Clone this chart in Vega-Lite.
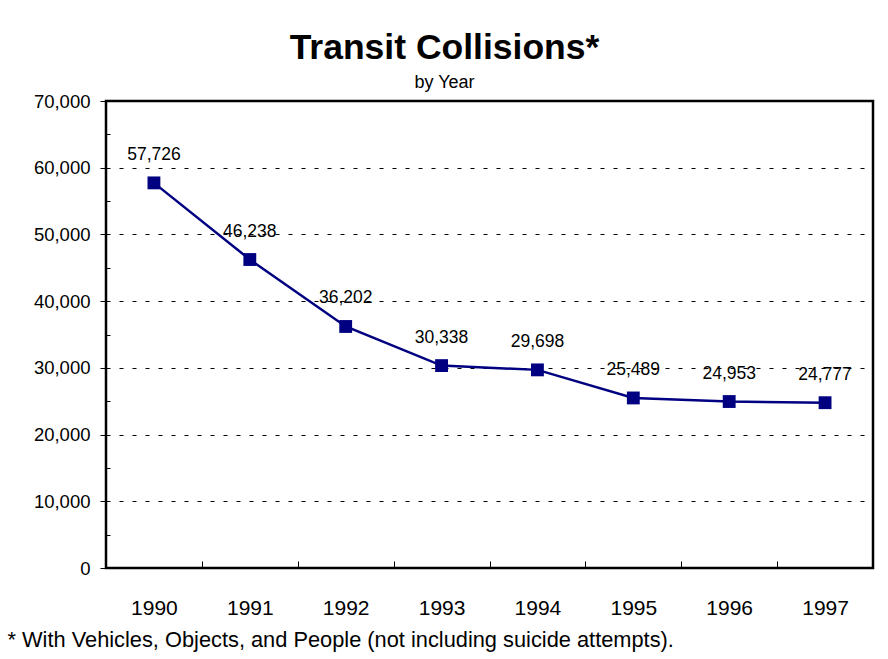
{
  "$schema": "https://vega.github.io/schema/vega-lite/v6.json",
  "width": 767,
  "height": 467,
  "autosize": {"type": "none"},
  "padding": {"left": 106, "top": 101, "right": 15, "bottom": 91},
  "background": "white",
  "config": {
    "font": "Liberation Sans",
    "view": {"stroke": "black", "strokeWidth": 2}
  },
  "view": {"stroke": "black", "strokeWidth": 2.5},
  "title": {
    "text": "Transit Collisions*",
    "subtitle": "by Year",
    "font": "Liberation Sans",
    "subtitleFont": "Liberation Sans",
    "fontSize": 35.5,
    "fontWeight": "bold",
    "subtitleFontSize": 18,
    "color": "black",
    "subtitleColor": "black",
    "anchor": "middle",
    "dx": -45,
    "offset": 0,
    "subtitlePadding": 8
  },
  "data": {
    "values": [
      {"year": "1990", "collisions": 57726},
      {"year": "1991", "collisions": 46238},
      {"year": "1992", "collisions": 36202},
      {"year": "1993", "collisions": 30338},
      {"year": "1994", "collisions": 29698},
      {"year": "1995", "collisions": 25489},
      {"year": "1996", "collisions": 24953},
      {"year": "1997", "collisions": 24777}
    ]
  },
  "layer": [
    {
      "mark": {"type": "line", "color": "#000080", "strokeWidth": 2.5},
      "encoding": {
        "x": {
          "field": "year",
          "type": "ordinal",
          "scale": {"type": "band", "paddingInner": 0, "paddingOuter": 0},
          "axis": {
            "title": "* With Vehicles, Objects, and People (not including suicide attempts).",
            "titleFontSize": 21.8,
            "titleFontWeight": "normal",
            "titleColor": "black",
            "titleAnchor": "start",
            "titleAlign": "left",
            "titleX": -99,
            "titleY": 78,
            "titleBaseline": "alphabetic",
            "labelAngle": 0,
            "labelFontSize": 21,
            "labelColor": "black",
            "labelPadding": 36,
            "tickSize": -7,
            "tickColor": "black",
            "tickWidth": 1,
            "tickBand": "extent",
            "domain": false,
            "grid": false
          }
        },
        "y": {
          "field": "collisions",
          "type": "quantitative",
          "scale": {"domain": [0, 70000], "nice": false},
          "axis": {
            "values": [0, 10000, 20000, 30000, 40000, 50000, 60000, 70000],
            "labelExpr": "format(datum.value, ',')",
            "title": null,
            "orient": "left",
            "labelFontSize": 18.5,
            "labelColor": "black",
            "labelPadding": 10,
            "labelOverlap": false,
            "tickSize": 6,
            "tickColor": "black",
            "tickWidth": 1,
            "domain": false,
            "grid": true,
            "gridColor": "black",
            "gridDash": [4, 9],
            "gridWidth": 1
          }
        }
      }
    },
    {
      "mark": {"type": "point", "shape": "square", "filled": true, "size": 165, "color": "#000080", "opacity": 1},
      "encoding": {
        "x": {"field": "year", "type": "ordinal"},
        "y": {"field": "collisions", "type": "quantitative", "axis": null}
      }
    },
    {
      "mark": {"type": "text", "dy": -28, "fontSize": 17.5, "color": "black"},
      "encoding": {
        "x": {"field": "year", "type": "ordinal"},
        "y": {"field": "collisions", "type": "quantitative", "axis": null},
        "text": {"field": "collisions", "type": "quantitative", "format": ","}
      }
    },
    {
      "mark": {"type": "point", "opacity": 0},
      "encoding": {
        "x": {"field": "year", "type": "ordinal"},
        "y": {
          "field": "collisions",
          "type": "quantitative",
          "axis": {
            "values": [5000, 15000, 25000, 35000, 45000, 55000, 65000],
            "orient": "left",
            "labels": false,
            "title": null,
            "tickSize": -4,
            "tickColor": "black",
            "tickWidth": 1,
            "domain": false,
            "grid": false
          }
        }
      }
    }
  ],
  "resolve": {"axis": {"y": "independent"}}
}
